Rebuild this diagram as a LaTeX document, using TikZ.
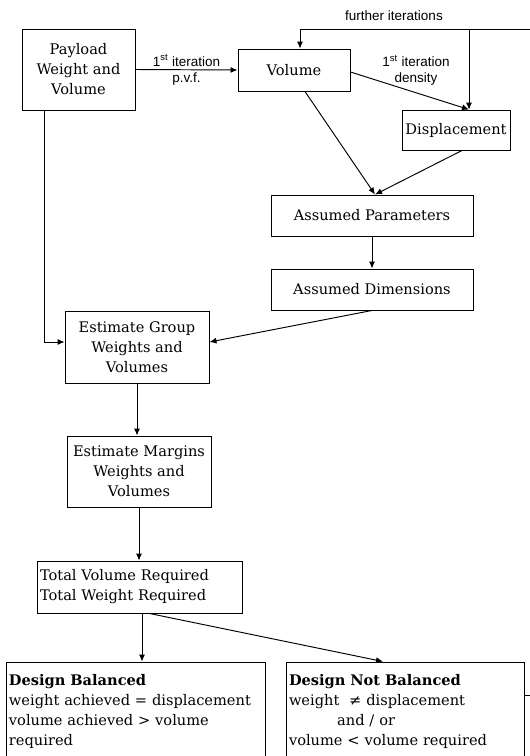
\documentclass[tikz,border=0pt]{standalone}
\usepackage{fontspec}
\setmainfont{DejaVu Serif}
\setsansfont{Liberation Sans}
\usetikzlibrary{arrows.meta,calc}

\tikzset{
  box/.style={draw, line width=0.95pt, inner sep=2pt, align=center,
    font=\fontsize{14.6}{20}\selectfont},
  lbox/.style={box, align=left},
  lab/.style={font=\sffamily\fontsize{13.5}{16}\selectfont, inner sep=1pt, align=center},
  arr/.style={line width=0.95pt, -{Latex[length=7pt,width=6pt]}},
  ln/.style={line width=0.95pt}
}

\begin{document}
\begin{tikzpicture}[x=1pt, y=-1pt]
\useasboundingbox (0,0) rectangle (530,756);

% boxes
\node[box, minimum width=113pt, minimum height=81pt] (pay) at (78.5,69.5)
  {Payload\\Weight and\\Volume};
\node[box, minimum width=112pt, minimum height=42pt] (vol) at (294,70) {Volume};
\node[box, minimum width=108pt, minimum height=40pt] (disp) at (456,130) {Displacement};
\node[box, minimum width=202pt, minimum height=41pt] (apar) at (372,215.5) {Assumed Parameters};
\node[box, minimum width=202pt, minimum height=41pt] (adim) at (372,289.5) {Assumed Dimensions};
\node[box, minimum width=144pt, minimum height=72pt] (egw) at (137,347)
  {Estimate Group\\Weights and\\Volumes};
\node[box, minimum width=144pt, minimum height=71pt] (emw) at (139,471.5)
  {Estimate Margins\\Weights and\\Volumes};
\node[lbox, minimum width=205pt, minimum height=52pt, text width=199pt] (tot) at (139.5,587)
  {Total Volume Required\\Total Weight Required};
\node[lbox, minimum width=259pt, minimum height=98pt, text width=253pt] (bal) at (135.5,711)
  {\textbf{Design Balanced}\\weight achieved = displacement\\volume achieved > volume\\required};
\node[lbox, minimum width=238pt, minimum height=98pt, text width=232pt] (nbal) at (405,711)
  {\textbf{Design Not Balanced}\\weight\ \ ≠ displacement\\\hspace*{3.3em}and / or\\volume < volume required};

% iteration loop coordinates
\coordinate (fiR) at (530,29);
\coordinate (fiL) at (300,29);
\coordinate (fiB) at (469,29);
\coordinate (plx) at (44,0);
\coordinate (outR) at (530,695);
\coordinate (balx) at (142,0);
\coordinate (nbalin) at (383,0);

% connectors
\draw[arr] (pay.east) -- (vol.west)
  node[lab, midway, above=2pt] {1\textsuperscript{st} iteration}
  node[lab, midway, below=2pt] {p.v.f.};
\draw[ln] (fiR) -- (fiL);
\draw[arr] (fiL) -- (fiL |- vol.north);
\draw[arr] (fiB) -- (fiB |- disp.north);
\node[lab] (fitext) at (394,16) {further iterations};
\draw[arr] ($(vol.east)+(0,2)$) -- (fiB |- disp.north);
\node[lab] (denstext) at (416,70) {1\textsuperscript{st} iteration\\density};
\draw[arr] ($(vol.south)+(11,0)$) -- ($(apar.north)+(3,0)$);
\draw[arr] ($(disp.south)+(6,0)$) -- ($(apar.north)+(3,0)$);
\draw[arr] (apar.south) -- (adim.north);
\draw[arr] (adim.south) -- ($(egw.east)+(0,-5)$);
\draw[arr] (plx |- pay.south) |- ($(egw.west)+(0,-5)$);
\draw[arr] (egw.south) -- (egw.south |- emw.north);
\draw[arr] (emw.south) -- (emw.south |- tot.north);
\draw[arr] (balx |- tot.south) -- (balx |- bal.north);
\draw[arr] ($(tot.south)+(10,0)$) -- (nbalin |- nbal.north);
\draw[ln] (nbal.east |- outR) -- (outR);
\end{tikzpicture}
\end{document}
